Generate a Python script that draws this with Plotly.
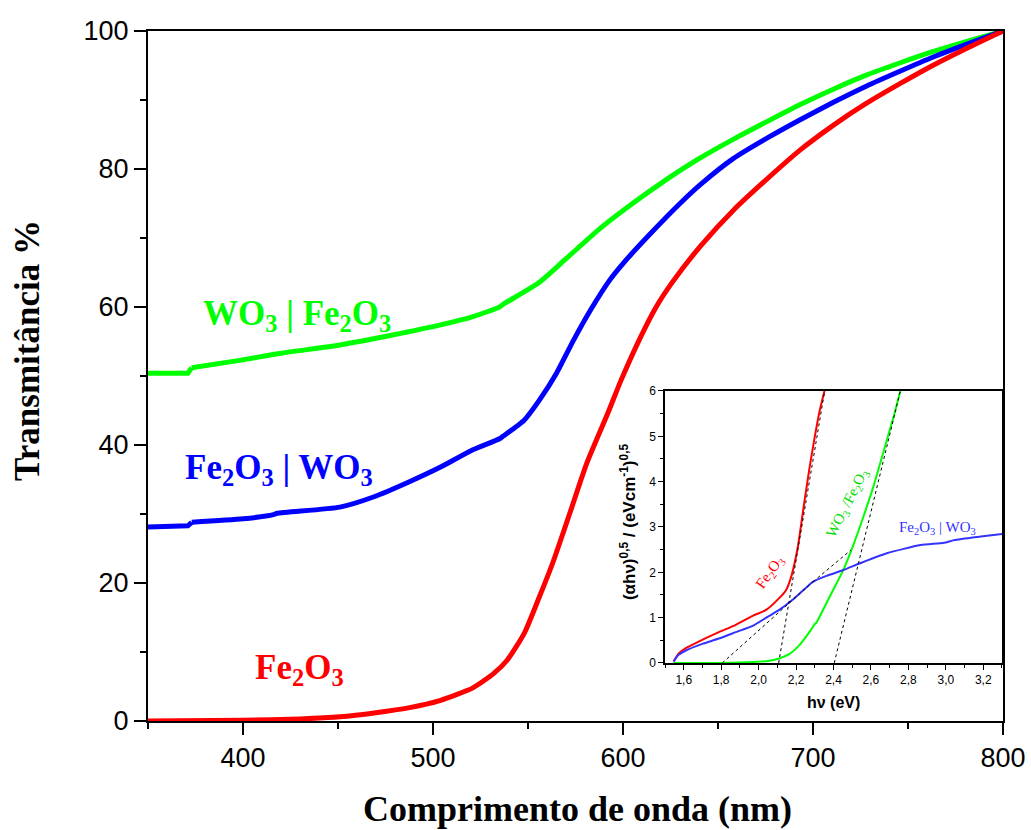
import plotly.graph_objects as go

# ---------------- main panel data (wavelength nm, transmittance %) ----------------
wl_fe2o3 = [350, 400, 430, 451, 470, 487, 504, 521, 532, 539, 548, 556, 563, 572, 581,
            592, 599, 609, 617, 626, 641, 658, 676, 693, 711, 728, 746, 763, 781, 800]
t_fe2o3 = [0.0, 0.1, 0.3, 0.6, 1.2, 1.9, 3.0, 4.8, 6.9, 8.8, 12.7, 18.0, 22.9, 30.1, 37.4,
           44.6, 49.4, 55.5, 59.8, 63.6, 68.9, 74.0, 78.6, 82.7, 86.4, 89.5, 92.4, 95.0,
           97.5, 100]

wl_fe2o3_wo3 = [350, 371, 373, 400, 416, 418, 451, 469, 487, 504, 521, 535, 537, 548, 556,
                565, 574, 583, 593, 600, 614, 630, 641, 658, 676, 693, 711, 728, 746, 763,
                781, 800]
t_fe2o3_wo3 = [28.1, 28.3, 28.8, 29.3, 29.9, 30.1, 31.0, 32.5, 34.6, 36.8, 39.3, 40.9, 41.3,
               43.6, 46.5, 50.4, 55.2, 59.6, 63.9, 66.3, 70.5, 75.0, 77.8, 81.5, 84.5, 87.1,
               89.7, 92.0, 94.2, 96.2, 98.1, 100]

wl_wo3_fe2o3 = [350, 371, 373, 399, 420, 451, 478, 504, 521, 535, 537, 556, 570, 588, 605,
                623, 640, 658, 676, 693, 711, 728, 746, 763, 781, 800]
t_wo3_fe2o3 = [50.4, 50.4, 51.2, 52.3, 53.3, 54.5, 55.9, 57.4, 58.6, 60.0, 60.4, 63.6, 67.0,
               71.4, 75.0, 78.5, 81.5, 84.3, 86.9, 89.3, 91.6, 93.6, 95.4, 97.0, 98.5, 100]

# index of the first point after the small instrument step at ~372 nm
step_index = 2

x_ticks = [400, 500, 600, 700, 800]
y_ticks = [0, 20, 40, 60, 80, 100]

# ---------------- inset data (hv eV, (alpha hv)^0.5) ----------------
ev_fe2o3 = [1.546, 1.56, 1.573, 1.609, 1.699, 1.788, 1.878, 1.968, 2.04, 2.11, 2.147, 2.174,
            2.192, 2.21, 2.228, 2.246, 2.273, 2.30, 2.327, 2.353]
k_fe2o3 = [0.03, 0.13, 0.21, 0.32, 0.51, 0.68, 0.84, 1.04, 1.17, 1.43, 1.61, 1.90,
           2.20, 2.57, 3.08, 3.60, 4.33, 4.99, 5.58, 6.02]

ev_fe2o3_wo3 = [1.546, 1.56, 1.573, 1.609, 1.699, 1.788, 1.878, 1.968, 2.057, 2.11, 2.18,
                2.237, 2.29, 2.362, 2.452, 2.542, 2.685, 2.865, 2.99, 3.044, 3.187, 3.308]
k_fe2o3_wo3 = [0.03, 0.12, 0.18, 0.27, 0.42, 0.54, 0.68, 0.82, 1.04, 1.17, 1.39, 1.60,
               1.79, 1.92, 2.05, 2.20, 2.42, 2.60, 2.65, 2.71, 2.79, 2.85]

ev_wo3_fe2o3 = [1.546, 1.788, 1.968, 2.057, 2.11, 2.165, 2.219, 2.273, 2.30, 2.309, 2.344,
                2.398, 2.452, 2.506, 2.56, 2.613, 2.649, 2.685, 2.721, 2.757]
k_wo3_fe2o3 = [0.0, 0.0, 0.02, 0.05, 0.10, 0.20, 0.40, 0.69, 0.86, 0.89, 1.17,
               1.61, 2.05, 2.60, 3.23, 3.89, 4.40, 4.92, 5.43, 6.0]

# tangent (extrapolation) lines
tan_fe2o3_x = [2.107, 2.353]
tan_fe2o3_y = [0.0, 6.0]
tan_low_x = [1.806, 2.29]
tan_low_y = [0.0, 1.79]
tan_mid_x = [2.29, 2.493]
tan_mid_y = [1.79, 2.49]
tan_wo3_x = [2.404, 2.757]
tan_wo3_y = [0.0, 6.0]

inset_xticks = [1.6, 1.8, 2.0, 2.2, 2.4, 2.6, 2.8, 3.0, 3.2]
inset_xticktext = ["1,6", "1,8", "2,0", "2,2", "2,4", "2,6", "2,8", "3,0", "3,2"]
inset_yticks = [0, 1, 2, 3, 4, 5, 6]

RED = "#FF0000"
BLUE = "#0000FF"
GREEN = "#00FF00"
SERIF = "Liberation Serif, Times New Roman, serif"
SANS = "Liberation Sans, Arial, sans-serif"

fig = go.Figure()

# main curves: flat start (linear, with the step) + smooth remainder (spline)
for xs, ys, col in [(wl_wo3_fe2o3, t_wo3_fe2o3, GREEN),
                    (wl_fe2o3_wo3, t_fe2o3_wo3, BLUE)]:
    fig.add_trace(go.Scatter(x=xs[:step_index + 1], y=ys[:step_index + 1], mode="lines",
                             line=dict(color=col, width=5), xaxis="x", yaxis="y"))
    fig.add_trace(go.Scatter(x=xs[step_index:], y=ys[step_index:], mode="lines",
                             line=dict(color=col, width=5, shape="spline", smoothing=0.6),
                             xaxis="x", yaxis="y"))
fig.add_trace(go.Scatter(x=wl_fe2o3, y=t_fe2o3, mode="lines",
                         line=dict(color=RED, width=5, shape="spline", smoothing=0.6),
                         xaxis="x", yaxis="y"))

# inset curves
for xs, ys, col in [(ev_wo3_fe2o3, k_wo3_fe2o3, GREEN),
                    (ev_fe2o3, k_fe2o3, RED),
                    (ev_fe2o3_wo3, k_fe2o3_wo3, "#3333FF")]:
    fig.add_trace(go.Scatter(x=xs, y=ys, mode="lines",
                             line=dict(color=col, width=2, shape="spline", smoothing=0.6),
                             xaxis="x2", yaxis="y2"))
for tx, ty in [(tan_fe2o3_x, tan_fe2o3_y), (tan_low_x, tan_low_y),
               (tan_mid_x, tan_mid_y), (tan_wo3_x, tan_wo3_y)]:
    fig.add_trace(go.Scatter(x=tx, y=ty, mode="lines",
                             line=dict(color="black", width=1, dash="dot"),
                             xaxis="x2", yaxis="y2"))

axis_common = dict(showline=True, linecolor="black", mirror=True, showgrid=False,
                   zeroline=False, ticks="outside", tickcolor="black", automargin=False)

fig.update_layout(
    width=1031, height=830,
    margin=dict(l=148, r=28, t=31, b=109, autoexpand=False),
    plot_bgcolor="white", paper_bgcolor="white",
    showlegend=False,
    xaxis=dict(**axis_common, domain=[0, 1], range=[350, 800], linewidth=2,
               tickvals=x_ticks, ticklen=12, tickwidth=2,
               tickfont=dict(family=SANS, size=27, color="black"),
               minor=dict(ticks="outside", ticklen=6, tickwidth=2, tickcolor="black",
                          dtick=50, tick0=350)),
    yaxis=dict(**axis_common, domain=[0, 1], range=[0, 100], linewidth=2,
               tickvals=y_ticks, ticklen=12, tickwidth=2,
               tickfont=dict(family=SANS, size=27, color="black"),
               minor=dict(ticks="outside", ticklen=6, tickwidth=2, tickcolor="black",
                          dtick=10, tick0=0)),
    xaxis2=dict(**axis_common, domain=[0.6047, 0.9988], anchor="y2", range=[1.5, 3.3],
                linewidth=1.5, tickvals=inset_xticks, ticktext=inset_xticktext,
                ticklen=5, tickwidth=1,
                tickfont=dict(family=SANS, size=12, color="black"),
                minor=dict(ticks="outside", ticklen=3, tickwidth=1, tickcolor="black",
                           dtick=0.1, tick0=1.5)),
    yaxis2=dict(**axis_common, domain=[0.0841, 0.4783], anchor="x2", range=[0, 6],
                linewidth=1.5, tickvals=inset_yticks, ticklen=5, tickwidth=1,
                tickfont=dict(family=SANS, size=12, color="black"),
                minor=dict(ticks="outside", ticklen=3, tickwidth=1, tickcolor="black",
                           dtick=0.5, tick0=0)),
)

annotations = [
    # axis titles
    dict(text="<b>Transmitância %</b>", xref="paper", yref="paper", x=-0.1404, y=0.5377,
         textangle=-90, showarrow=False, xanchor="center", yanchor="middle",
         font=dict(family=SERIF, size=35, color="black")),
    dict(text="<b>Comprimento de onda (nm)</b>", xref="paper", yref="paper", x=0.5018,
         y=-0.1275, showarrow=False, xanchor="center", yanchor="middle",
         font=dict(family=SERIF, size=36, color="black")),
    # main labels
    dict(text="<b>WO<sub>3</sub> | Fe<sub>2</sub>O<sub>3</sub></b>", xref="x", yref="y",
         x=377.9, y=58.8, xanchor="left", yanchor="middle", showarrow=False,
         font=dict(family=SERIF, size=35, color=GREEN)),
    dict(text="<b>Fe<sub>2</sub>O<sub>3</sub> | WO<sub>3</sub></b>", xref="x", yref="y",
         x=368.4, y=36.4, xanchor="left", yanchor="middle", showarrow=False,
         font=dict(family=SERIF, size=35, color=BLUE)),
    dict(text="<b>Fe<sub>2</sub>O<sub>3</sub></b>", xref="x", yref="y",
         x=405.2, y=7.4, xanchor="left", yanchor="middle", showarrow=False,
         font=dict(family=SERIF, size=35, color=RED)),
    # inset titles
    dict(text="<b>(αhν)<sup>0,5</sup> / (eVcm<sup>-1</sup>)<sup>0,5</sup></b>",
         xref="paper", yref="paper", x=0.5615, y=0.2884, textangle=-90, showarrow=False,
         xanchor="center", yanchor="middle",
         font=dict(family=SANS, size=17, color="black")),
    dict(text="<b>hν (eV)</b>", xref="paper", yref="paper", x=0.8012, y=0.0275,
         showarrow=False, xanchor="center", yanchor="middle",
         font=dict(family=SANS, size=16, color="black")),
    # inset labels
    dict(text="Fe<sub>2</sub>O<sub>3</sub>", xref="x2", yref="y2", x=2.06, y=1.99,
         textangle=-55, showarrow=False, font=dict(family=SERIF, size=15, color=RED)),
    dict(text="WO<sub>3</sub> /Fe<sub>2</sub>O<sub>3</sub>", xref="x2", yref="y2",
         x=2.477, y=3.53, textangle=-63, showarrow=False,
         font=dict(family=SERIF, size=15, color="#00DD00")),
    dict(text="Fe<sub>2</sub>O<sub>3</sub> | WO<sub>3</sub>", xref="x2", yref="y2",
         x=2.958, y=2.98, showarrow=False,
         font=dict(family=SERIF, size=15, color="#3333FF")),
]
fig.update_layout(annotations=annotations)

fig.write_html("out.html")
